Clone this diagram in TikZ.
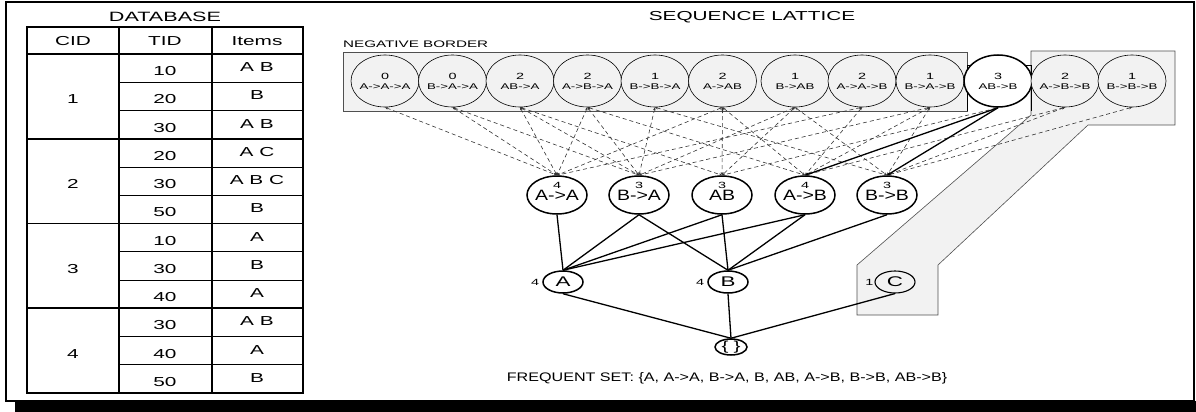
\documentclass[tikz,border=0pt]{standalone}
\usepackage{fontspec}
\setmainfont{Liberation Sans}[FakeStretch=1.6]
\newfontfamily\schmal{Liberation Sans}[FakeStretch=1.3]
\usetikzlibrary{shapes.geometric,arrows.meta}
\definecolor{hellgrau}{HTML}{F2F2F2}
\definecolor{randgrau}{HTML}{505050}
\newcommand{\schrift}[1]{\fontsize{#1}{#1}\selectfont}
\newcommand{\nbtext}[2]{\makebox[0pt]{#1}\\\makebox[0pt]{\fontsize{8.3}{10}\selectfont #2}}

\begin{document}
\begin{tikzpicture}[x=1pt,y=-1pt,
	dick/.style={line width=1.6pt},
	duenn/.style={line width=0.8pt},
	nbknoten/.style={ellipse,draw,line width=0.6pt,fill=hellgrau,minimum width=68pt,minimum height=52pt,inner sep=0pt,align=center,font=\fontsize{9}{10}\selectfont},
	haeufig/.style={ellipse,draw,line width=1.5pt,fill=white,minimum width=60pt,minimum height=38pt,inner sep=0pt,font=\schmal\schrift{15}},
	einzel/.style={ellipse,draw,line width=1.5pt,fill=white,minimum width=40pt,minimum height=22pt,inner sep=0pt,font=\schrift{14}},
	zahl/.style={font=\schrift{9},inner sep=1pt},
	kante/.style={line width=1.3pt},
	gestrichelt/.style={dash pattern=on 4pt off 3pt,line width=0.6pt,draw=black!80,{Stealth[length=3pt,width=2.5pt]}-{Stealth[length=3pt,width=2.5pt]}}]
	\useasboundingbox (0,0) rectangle (1196,412);

	% Rahmen mit Schatten
	\fill (15,401) rectangle (1196,412);
	\draw[line width=2pt] (6,2) rectangle (1194,401);

	% Tabelle
	\node[font=\schrift{13.5}] (dbtitel) at (165,17) {DATABASE};
	\node[font=\schrift{13}] (cid) at (73,41) {CID};
	\node[font=\schrift{13}] (tid) at (165,41) {TID};
	\node[font=\schrift{13}] (items) at (257,41) {Items};
	\draw[dick] (27,27) rectangle (303,393);
	\draw[dick] (119,27) -- (119,393);
	\draw[dick] (212,27) -- (212,393);
	\draw[dick] (27,54) -- (303,54);
	\foreach \i in {3,6,9}
		\draw[dick] (27,{54+28.25*\i}) -- (303,{54+28.25*\i});
	\foreach \i in {1,2,4,5,7,8,10,11}
		\draw[duenn] (119,{54+28.25*\i}) -- (303,{54+28.25*\i});
	\foreach \tid/\items [count=\i] in {10/A B, 20/B, 30/A B, 20/A C, 30/A B C, 50/B, 10/A, 30/B, 40/A, 30/A B, 40/A, 50/B} {
		\node[font=\schrift{13}] (tid\i) at (165,{54+28.25*\i-14.1+3}) {\tid};
		\node[font=\schrift{13}] (item\i) at (257,{54+28.25*\i-14.1-1}) {\items};
	}
	\foreach \c in {1,...,4}
		\node[font=\schrift{13}] (cid\c) at (73,{54+84.75*\c-42.4+3}) {\c};

	% Ueberschriften Verband
	\node[font=\schrift{13}] (vtitel) at (752,17) {SEQUENCE LATTICE};
	\node[font=\schrift{9.5},anchor=west,inner sep=0pt] (nbtitel) at (343,44) {NEGATIVE BORDER};

	% Grauer Bereich
	\draw[draw=randgrau,line width=0.6pt,fill=hellgrau] (343,52) rectangle (967,111);
	\draw[draw=randgrau,line width=0.6pt,fill=hellgrau] (1031,51) -- (1175,51) -- (1175,125) -- (1088,125) -- (938,265) -- (938,315) -- (857,315) -- (857,265) -- (1031,115) -- cycle;
	\draw[line width=0.8pt] (967,111) -- (967,65) -- (1031,65) -- (1031,111);

	% Negativrand
	\node[nbknoten] (nb1) at (385,81) {\nbtext{0}{A->A->A}};
	\node[nbknoten] (nb2) at (452.5,81) {\nbtext{0}{B->A->A}};
	\node[nbknoten] (nb3) at (520,81) {\nbtext{2}{AB->A}};
	\node[nbknoten] (nb4) at (587.5,81) {\nbtext{2}{A->B->A}};
	\node[nbknoten] (nb5) at (655,81) {\nbtext{1}{B->B->A}};
	\node[nbknoten] (nb6) at (722.5,81) {\nbtext{2}{A->AB}};
	\node[nbknoten] (nb7) at (795,81) {\nbtext{1}{B->AB}};
	\node[nbknoten] (nb8) at (862,81) {\nbtext{2}{A->A->B}};
	\node[nbknoten] (nb9) at (930,81) {\nbtext{1}{B->A->B}};
	\node[nbknoten,fill=white,line width=1.5pt] (nb10) at (998,81) {\nbtext{3}{AB->B}};
	\node[nbknoten] (nb11) at (1065,81) {\nbtext{2}{A->B->B}};
	\node[nbknoten] (nb12) at (1132,81) {\nbtext{1}{B->B->B}};

	% Haeufige 2-Sequenzen
	\node[haeufig,label={[zahl,yshift=9.5pt]center:4}] (aa) at (557,195) {\makebox[0pt]{A->A}};
	\node[haeufig,label={[zahl,yshift=9.5pt]center:3}] (ba) at (639,195) {\makebox[0pt]{B->A}};
	\node[haeufig,label={[zahl,yshift=9.5pt]center:3}] (ab) at (722,195) {\makebox[0pt]{AB}};
	\node[haeufig,label={[zahl,yshift=9.5pt]center:4}] (atb) at (805,195) {\makebox[0pt]{A->B}};
	\node[haeufig,label={[zahl,yshift=9.5pt]center:3}] (bb) at (887,195) {\makebox[0pt]{B->B}};

	% Einzelne Elemente
	\node[einzel,label={[zahl,xshift=-2pt]left:4}] (a) at (563,282) {A};
	\node[einzel,label={[zahl,xshift=-2pt]left:4}] (b) at (728,282) {B};
	\node[einzel,fill=hellgrau,line width=1.1pt,label={[zahl]left:1}] (c) at (895,282) {C};
	\node[ellipse,draw,line width=1.5pt,minimum width=32pt,minimum height=16pt,inner sep=0pt,font=\schrift{13},text height=6pt,text depth=0pt] (leer) at (731,347) {\makebox[0pt]{\{\hspace{5pt}\}}};

	% Gestrichelte Kanten
	\foreach \von/\nach in {nb1/aa, nb2/ba, nb2/aa, nb3/aa, nb3/ba, nb3/ab, nb4/atb, nb4/ba, nb4/aa,
		nb5/bb, nb5/ba, nb6/aa, nb6/atb, nb6/ab, nb7/ba, nb7/bb, nb7/ab, nb8/aa, nb8/atb,
		nb9/ba, nb9/atb, nb9/bb, nb10/ab, nb11/atb, nb11/bb, nb12/bb}
		\draw[gestrichelt] (\von.south) -- (\nach.north);

	% Durchgezogene Kanten
	\draw[kante,-{Stealth[length=4pt,width=3pt]}] (nb10.south) -- (atb.north);
	\draw[kante,-{Stealth[length=4pt,width=3pt]}] (nb10.south) -- (bb.north);
	\foreach \von/\nach in {aa/a, ba/a, ab/a, atb/a, ba/b, ab/b, atb/b, bb/b, a/leer, b/leer, c/leer}
		\draw[kante] (\von.south) -- (\nach.north);

	% Haeufige Menge
	\node[font=\schmal\schrift{12.4}] (menge) at (727,378) {FREQUENT SET: \{A, A->A, B->A, B, AB, A->B, B->B, AB->B\}};
\end{tikzpicture}
\end{document}
